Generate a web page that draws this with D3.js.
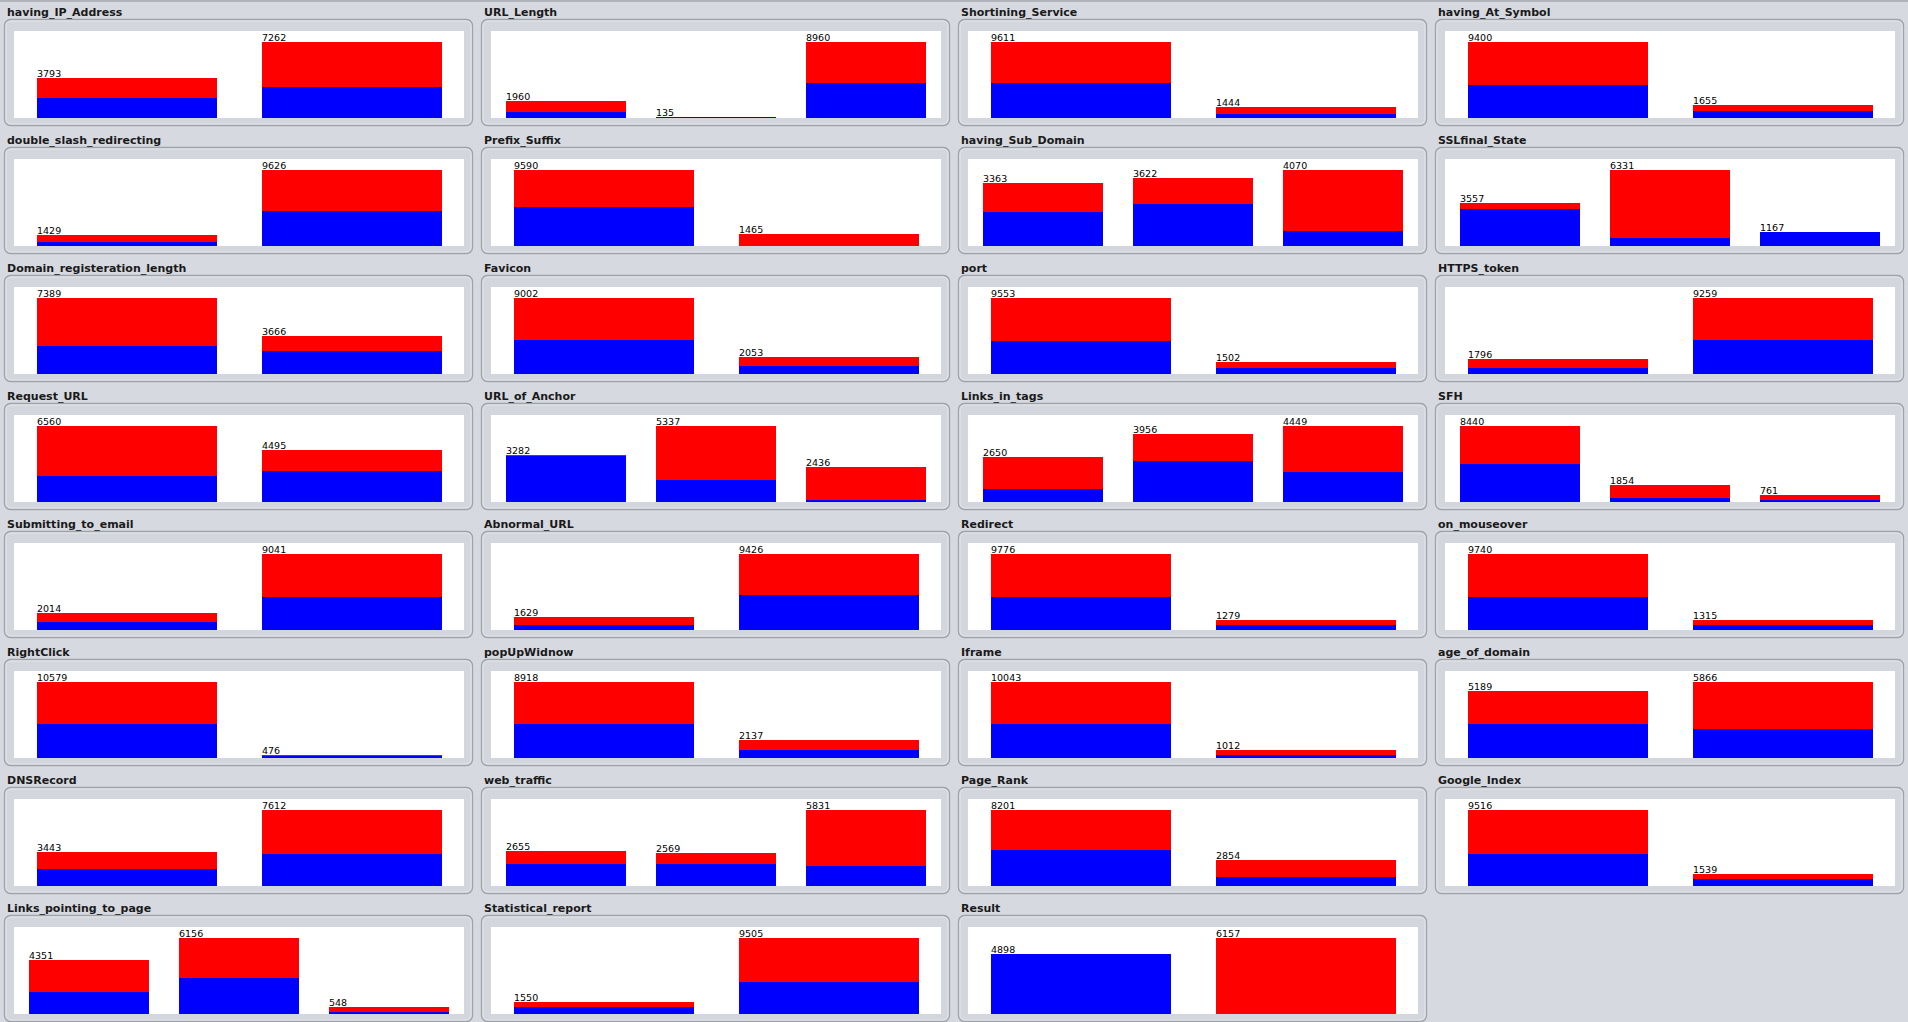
<!DOCTYPE html>
<html>
<head>
<meta charset="utf-8">
<script src="https://cdn.jsdelivr.net/npm/d3@7/dist/d3.min.js"></script>
<style>
  html, body { margin: 0; padding: 0; background: #d6d9df; overflow: hidden; }
  svg { display: block; }
</style>
</head>
<body>
<svg id="chart" width="1908" height="1022"></svg>
<script>
// ---- Data ----
const attributeNames = [
  "having_IP_Address", "URL_Length", "Shortining_Service", "having_At_Symbol",
  "double_slash_redirecting", "Prefix_Suffix", "having_Sub_Domain", "SSLfinal_State",
  "Domain_registeration_length", "Favicon", "port", "HTTPS_token",
  "Request_URL", "URL_of_Anchor", "Links_in_tags", "SFH",
  "Submitting_to_email", "Abnormal_URL", "Redirect", "on_mouseover",
  "RightClick", "popUpWidnow", "Iframe", "age_of_domain",
  "DNSRecord", "web_traffic", "Page_Rank", "Google_Index",
  "Links_pointing_to_page", "Statistical_report", "Result"
];

// class -1 (blue) counts per attribute value
const blueCounts = [
  [1890, 3008], [700, 110, 4088], [4370, 528], [4080, 818],
  [525, 4373], [4898, 0], [1836, 2258, 804], [3063, 668, 1167],
  [2710, 2188], [3985, 913], [4125, 773], [737, 4161],
  [2248, 2650], [3230, 1520, 148], [764, 2382, 1752], [4200, 460, 238],
  [975, 3923], [595, 4303], [4270, 628], [4250, 648],
  [4680, 218], [3968, 930], [4470, 428], [2660, 2238],
  [1708, 3190], [1665, 1710, 1523], [3920, 978], [4010, 888],
  [1785, 2950, 163], [840, 4058], [4898, 0]
];

// class 1 (red) counts per attribute value
const redCounts = [
  [1903, 4254], [1260, 25, 4872], [5241, 916], [5320, 837],
  [904, 5253], [4692, 1465], [1527, 1364, 3266], [494, 5663, 0],
  [4679, 1478], [5017, 1140], [5428, 729], [1059, 5098],
  [4312, 1845], [52, 3817, 2288], [1886, 1574, 2697], [4240, 1394, 523],
  [1039, 5118], [1034, 5123], [5506, 651], [5490, 667],
  [5899, 258], [4950, 1207], [5573, 584], [2529, 3628],
  [1735, 4422], [990, 859, 4308], [4281, 1876], [5506, 651],
  [2566, 3206, 385], [710, 5447], [0, 6157]
];

const classColors = ["#0000ff", "#ff0000"];

// ---- Layout ----
const svg = d3.select("#chart");
const W = 1908, H = 1022;
const nCols = 4;
const colPitch = W / nCols;   // 477
const rowPitch = 128;
const plotW = 450, plotH = 87, topGap = 11;

svg.append("rect").attr("width", W).attr("height", H).attr("fill", "#d6d9df");
svg.append("line").attr("x1", 0).attr("x2", W).attr("y1", 1).attr("y2", 1)
  .attr("stroke", "#a3a6ac").attr("stroke-width", 1.5);

attributeNames.forEach((name, i) => {
  const col = i % nCols, row = Math.floor(i / nCols);
  const g = svg.append("g").attr("transform", `translate(${col * colPitch},${row * rowPitch})`);

  g.append("text")
    .attr("x", 7).attr("y", 15.5)
    .attr("font-family", "DejaVu Sans, sans-serif")
    .attr("font-weight", "bold")
    .attr("font-size", "11px")
    .attr("fill", "#1a1a1a")
    .text(name);

  // panel frame
  g.append("rect")
    .attr("x", 4.5).attr("y", 19.5).attr("width", 468).attr("height", 106)
    .attr("rx", 6).attr("ry", 6)
    .attr("fill", "#d3d6dc").attr("stroke", "#9fa2a8").attr("stroke-width", 1.3);
  g.append("rect")
    .attr("x", 6).attr("y", 21).attr("width", 465).attr("height", 103)
    .attr("rx", 5).attr("ry", 5)
    .attr("fill", "none").attr("stroke", "#e3e5e9").attr("stroke-width", 1);

  const plot = g.append("g").attr("transform", "translate(14,31)");
  plot.append("rect").attr("width", plotW).attr("height", plotH).attr("fill", "#ffffff");

  const blues = blueCounts[i], reds = redCounts[i];
  const totals = blues.map((b, k) => b + reds[k]);
  const idx = d3.range(totals.length);

  const x = d3.scaleBand().domain(idx).range([0, plotW]).paddingInner(0.2).paddingOuter(0.1);
  const y = d3.scaleLinear().domain([0, d3.max(totals)]).range([plotH, topGap]);

  const stacked = d3.stack().keys([0, 1]).value((k, key) => key === 0 ? blues[k] : reds[k])(idx);

  stacked.forEach((layer, li) => {
    plot.selectAll(null).data(layer).enter().append("rect")
      .attr("shape-rendering", "crispEdges")
      .attr("x", (d, k) => Math.round(x(k)))
      .attr("width", Math.round(x.bandwidth()))
      .attr("y", d => y(d[1]))
      .attr("height", d => Math.max(0, y(d[0]) - y(d[1])))
      .attr("fill", classColors[li]);
  });

  plot.selectAll(null).data(idx).enter().append("text")
    .attr("x", k => Math.round(x(k)))
    .attr("y", k => y(totals[k]) - 1)
    .attr("font-family", "DejaVu Sans, sans-serif")
    .attr("font-size", "9.5px")
    .attr("fill", "#000")
    .text(k => totals[k]);
});
</script>
</body>
</html>
